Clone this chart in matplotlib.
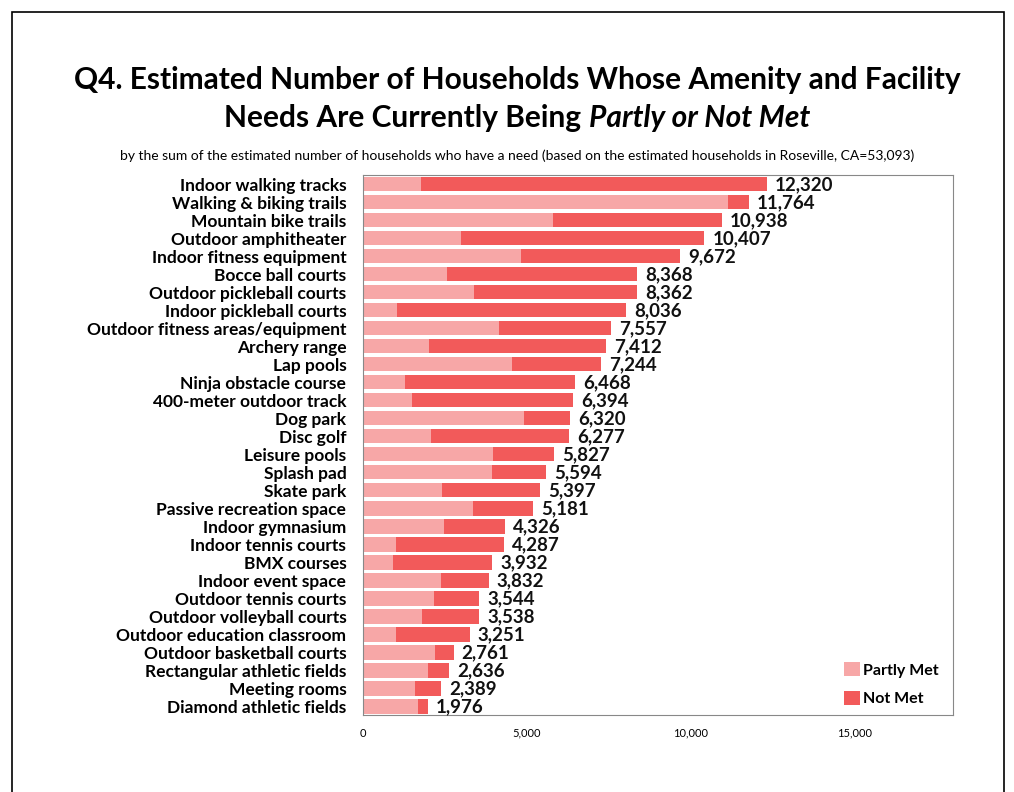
import matplotlib
matplotlib.use("Agg")
import matplotlib.pyplot as plt
import numpy as np

plt.rcParams['font.family'] = ['Lato', 'DejaVu Sans']

categories = ["Indoor walking tracks", "Walking & biking trails", "Mountain bike trails",
              "Outdoor amphitheater", "Indoor fitness equipment", "Bocce ball courts",
              "Outdoor pickleball courts", "Indoor pickleball courts",
              "Outdoor fitness areas/equipment", "Archery range", "Lap pools",
              "Ninja obstacle course", "400-meter outdoor track", "Dog park", "Disc golf",
              "Leisure pools", "Splash pad", "Skate park", "Passive recreation space",
              "Indoor gymnasium", "Indoor tennis courts", "BMX courses", "Indoor event space",
              "Outdoor tennis courts", "Outdoor volleyball courts",
              "Outdoor education classroom", "Outdoor basketball courts",
              "Rectangular athletic fields", "Meeting rooms", "Diamond athletic fields"]
totals = [12320, 11764, 10938, 10407, 9672, 8368, 8362, 8036, 7557, 7412, 7244,
          6468, 6394, 6320, 6277, 5827, 5594, 5397, 5181, 4326, 4287, 3932, 3832,
          3544, 3538, 3251, 2761, 2636, 2389, 1976]
partly_met = [1760, 11140, 5790, 2990, 4820, 2550, 3390, 1050, 4160, 2020, 4540,
              1280, 1490, 4900, 2070, 3950, 3940, 2410, 3340, 2480, 1000, 900, 2380,
              2170, 1810, 1000, 2200, 1970, 1590, 1690]
not_met = [t - p for t, p in zip(totals, partly_met)]

c_partly = "#F7A7A7"
c_not = "#F25A5A"

fig = plt.figure(figsize=(10.14, 7.92), dpi=100)
ax = fig.add_axes([0.358, 0.097, 0.582, 0.682])

y = np.arange(len(categories))
ax.barh(y, partly_met, height=0.82, color=c_partly, label="Partly Met")
ax.barh(y, not_met, left=partly_met, height=0.82, color=c_not, label="Not Met")

for yi, t in zip(y, totals):
    ax.text(t + 250, yi + 0.05, f"{t:,}", va="center", ha="left", fontsize=13.5,
            fontweight="bold", color="#111111")

ax.set_ylim(len(categories) - 0.5, -0.5)
ax.set_xlim(0, 18000)
ax.set_yticks(y)
ax.set_yticklabels(categories, fontsize=12.5, fontweight="bold")
ax.set_xticks([0, 5000, 10000, 15000])
ax.set_xticklabels(["0", "5,000", "10,000", "15,000"], fontsize=8)
ax.tick_params(length=0)
ax.tick_params(axis="x", pad=9)
ax.tick_params(axis="y", pad=12)
for s in ax.spines.values():
    s.set_color("#888888")
    s.set_linewidth(0.8)

leg = ax.legend(loc="lower right", frameon=False, fontsize=11.5, handlelength=1.0,
                handleheight=1.0, handletextpad=0.2, labelspacing=0.8,
                bbox_to_anchor=(1.0, -0.01))
for txt in leg.get_texts():
    txt.set_fontweight("bold")

# title
fig.text(0.51, 0.899, "Q4. Estimated Number of Households Whose Amenity and Facility",
         ha="center", va="center", fontsize=21.5, fontweight="bold")
fig.canvas.draw()
r = fig.canvas.get_renderer()
t1 = fig.text(0, 0.851, "Needs Are Currently Being ", ha="left", va="center",
              fontsize=21.5, fontweight="bold")
t2 = fig.text(0, 0.851, "Partly or Not Met", ha="left", va="center",
              fontsize=21.5, fontweight="bold", style="italic")
w1 = t1.get_window_extent(r).width
w2 = t2.get_window_extent(r).width
x0 = 0.51 * fig.bbox.width - (w1 + w2) / 2
t1.set_x(x0 / fig.bbox.width)
t2.set_x((x0 + w1) / fig.bbox.width)

fig.text(0.51, 0.804, "by the sum of the estimated number of households who have a need "
         "(based on the estimated households in Roseville, CA=53,093)",
         ha="center", va="center", fontsize=10)

fig.add_artist(plt.Rectangle((0.012, -0.1), 0.978, 1.085, transform=fig.transFigure,
                             fill=False, edgecolor="black", linewidth=1.2))

fig.savefig("out.png", dpi=100)
